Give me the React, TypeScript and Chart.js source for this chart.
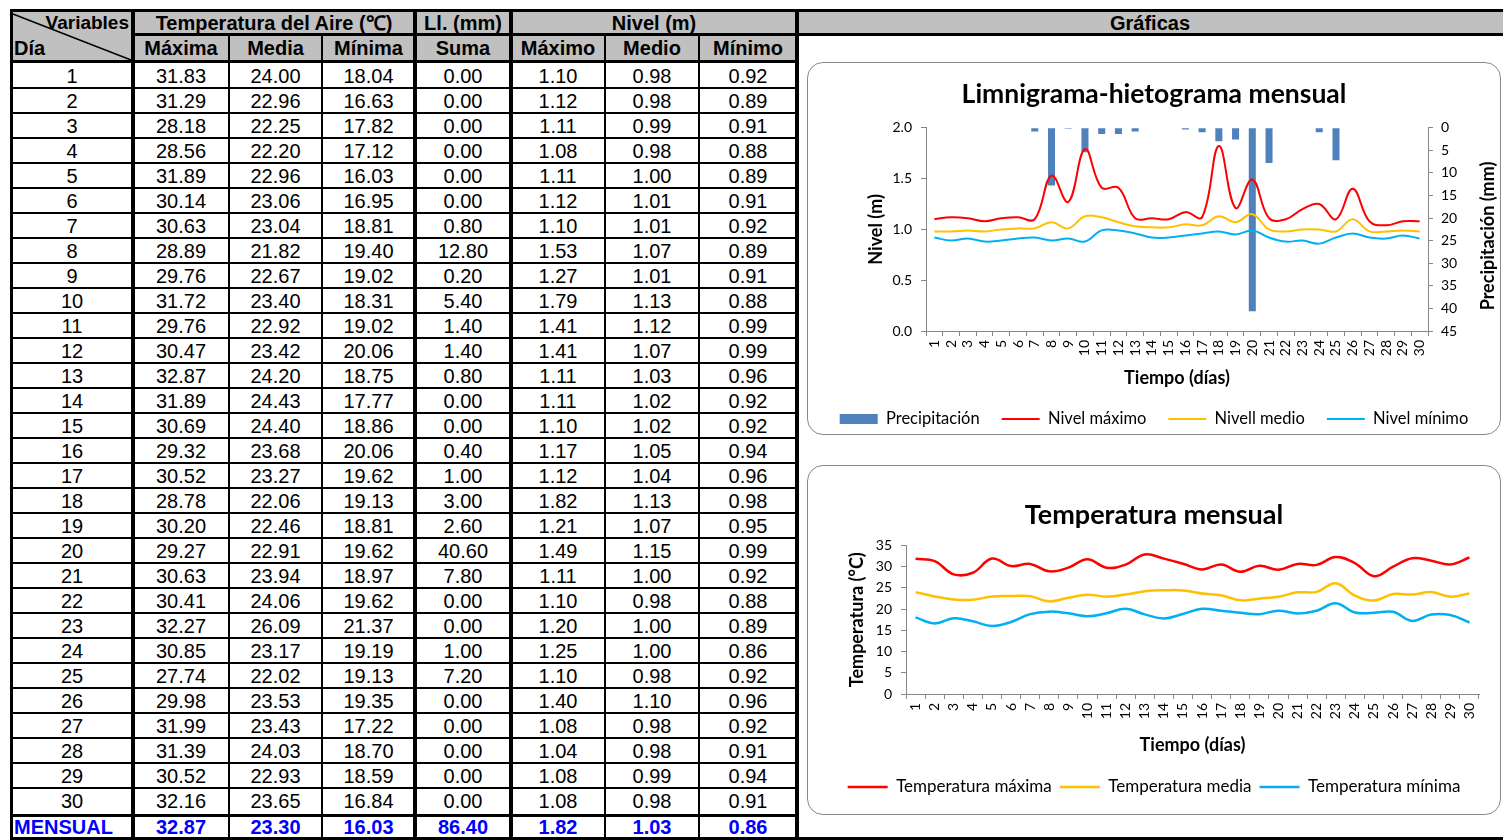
import React, { useEffect, useRef } from "react";
import { Chart, registerables } from "chart.js";
Chart.register(...registerables);

// ---------- DATA ----------
const days = ["1","2","3","4","5","6","7","8","9","10","11","12","13","14","15","16","17","18","19","20","21","22","23","24","25","26","27","28","29","30"];
const tMax = [31.83,31.29,28.18,28.56,31.89,30.14,30.63,28.89,29.76,31.72,29.76,30.47,32.87,31.89,30.69,29.32,30.52,28.78,30.20,29.27,30.63,30.41,32.27,30.85,27.74,29.98,31.99,31.39,30.52,32.16];
const tMed = [24.00,22.96,22.25,22.20,22.96,23.06,23.04,21.82,22.67,23.40,22.92,23.42,24.20,24.43,24.40,23.68,23.27,22.06,22.46,22.91,23.94,24.06,26.09,23.17,22.02,23.53,23.43,24.03,22.93,23.65];
const tMin = [18.04,16.63,17.82,17.12,16.03,16.95,18.81,19.40,19.02,18.31,19.02,20.06,18.75,17.77,18.86,20.06,19.62,19.13,18.81,19.62,18.97,19.62,21.37,19.19,19.13,19.35,17.22,18.70,18.59,16.84];
const precip = [0.00,0.00,0.00,0.00,0.00,0.00,0.80,12.80,0.20,5.40,1.40,1.40,0.80,0.00,0.00,0.40,1.00,3.00,2.60,40.60,7.80,0.00,0.00,1.00,7.20,0.00,0.00,0.00,0.00,0.00];
const nMax = [1.10,1.12,1.11,1.08,1.11,1.12,1.10,1.53,1.27,1.79,1.41,1.41,1.11,1.11,1.10,1.17,1.12,1.82,1.21,1.49,1.11,1.10,1.20,1.25,1.10,1.40,1.08,1.04,1.08,1.08];
const nMed = [0.98,0.98,0.99,0.98,1.00,1.01,1.01,1.07,1.01,1.13,1.12,1.07,1.03,1.02,1.02,1.05,1.04,1.13,1.07,1.15,1.00,0.98,1.00,1.00,0.98,1.10,0.98,0.98,0.99,0.98];
const nMin = [0.92,0.89,0.91,0.88,0.89,0.91,0.92,0.89,0.91,0.88,0.99,0.99,0.96,0.92,0.92,0.94,0.96,0.98,0.95,0.99,0.92,0.88,0.89,0.86,0.92,0.96,0.92,0.91,0.94,0.91];
const mensual = ["32.87","23.30","16.03","86.40","1.82","1.03","0.86"];
const subHeaders = ["Máxima","Media","Mínima","Suma","Máximo","Medio","Mínimo"];

// ---------- TABLE GEOMETRY ----------
const colX = [11, 133, 229, 322, 415, 511, 605, 699, 797];
const ROW0 = 63;
const ROWH = 25;
const TABLE_FONT = '"Liberation Sans", Arial, sans-serif';
const CHART_FONT = 'Lato, "Open Sans", sans-serif';

const abs = (l: number, t: number, w: number, h: number, extra: any = {}) => ({
  position: "absolute" as const, left: l, top: t, width: w, height: h, ...extra,
});

function Cell({ l, r, t, b, children, align = "center", bold = false, color = "#000", size = 20 }: any) {
  return (
    <div style={abs(l, t, r - l, b - t, {
      display: "flex", alignItems: "center",
      justifyContent: align === "center" ? "center" : align === "right" ? "flex-end" : "flex-start",
      fontFamily: TABLE_FONT, fontSize: size, fontWeight: bold ? 700 : 400, color,
      whiteSpace: "nowrap", lineHeight: 1, padding: align === "left" ? "0 0 0 3px" : align === "right" ? "0 2px 0 0" : 0,
      boxSizing: "border-box",
    })}>{children}</div>
  );
}

const VL = (x: number, y1: number, y2: number, t: number, k: string) => (
  <div key={k} style={abs(x - t / 2, y1, t, y2 - y1, { background: "#000" })} />
);
const HL = (x1: number, x2: number, y: number, t: number, k: string) => (
  <div key={k} style={abs(x1, y - t / 2, x2 - x1, t, { background: "#000" })} />
);

function legendLabels(styles: string[]) {
  return (chart: any) => {
    const items = Chart.defaults.plugins.legend.labels.generateLabels(chart);
    items.forEach((it: any) => { it.pointStyle = styles[it.datasetIndex]; });
    items.sort((a: any, b: any) => a.datasetIndex - b.datasetIndex);
    return items;
  };
}

const axisColor = "#868686";
const tickFont = { family: CHART_FONT, size: 14 };
const axisTitleFont = { family: CHART_FONT, size: 18, weight: "bold" };

function LimniChart() {
  const ref = useRef<HTMLCanvasElement>(null);
  useEffect(() => {
    const rightTitle = {
      id: "rightTitle",
      afterDraw(chart: any) {
        const ctx = chart.ctx;
        ctx.save();
        ctx.font = `bold 18px ${CHART_FONT}`;
        ctx.fillStyle = "#000";
        ctx.textAlign = "center";
        ctx.textBaseline = "middle";
        ctx.translate(681, 174);
        ctx.rotate(-Math.PI / 2);
        ctx.fillText("Precipitación (mm)", 0, 0);
        ctx.restore();
      },
    };
    const chart = new Chart(ref.current as HTMLCanvasElement, {
      type: "bar",
      data: {
        labels: days,
        datasets: [
          { type: "bar", label: "Precipitación", data: precip, yAxisID: "y2", backgroundColor: "#4F81BD", barPercentage: 0.42, categoryPercentage: 1, order: 2 } as any,
          { type: "line", label: "Nivel máximo", data: nMax, yAxisID: "y", borderColor: "#FF0000", backgroundColor: "#FF0000", borderWidth: 2, pointRadius: 0, tension: 0.4, order: 1 },
          { type: "line", label: "Nivell medio", data: nMed, yAxisID: "y", borderColor: "#FFC000", backgroundColor: "#FFC000", borderWidth: 2, pointRadius: 0, tension: 0.4, order: 1 },
          { type: "line", label: "Nivel mínimo", data: nMin, yAxisID: "y", borderColor: "#00B0F0", backgroundColor: "#00B0F0", borderWidth: 2, pointRadius: 0, tension: 0.4, order: 1 },
        ],
      },
      options: {
        responsive: false,
        animation: false,
        layout: { padding: { left: 0, right: 0, top: 0, bottom: -2.25 } },
        plugins: {
          title: { display: true, text: "Limnigrama-hietograma mensual", color: "#000", font: { family: CHART_FONT, size: 26.5, weight: "bold" }, padding: { top: 17, bottom: 17 } },
          legend: {
            position: "bottom",
            labels: {
              usePointStyle: true, pointStyleWidth: 38, boxHeight: 10, padding: 22,
              color: "#000", font: { family: CHART_FONT, size: 16.5 },
              generateLabels: legendLabels(["rect", "line", "line", "line"]),
            },
          },
          tooltip: { enabled: false },
        },
        scales: {
          x: {
            offset: true,
            grid: { offset: true, drawOnChartArea: false, tickLength: 5, color: axisColor },
            border: { color: axisColor },
            ticks: { minRotation: 90, maxRotation: 90, autoSkip: false, color: "#000", font: tickFont, padding: 4 },
            title: { display: true, text: "Tiempo (días)", color: "#000", font: axisTitleFont, padding: { top: 0, bottom: 0 } },
            afterFit: (s: any) => { s.height = 57.75; },
          },
          y: {
            position: "left", min: 0, max: 2,
            grid: { drawOnChartArea: false, tickLength: 5, color: axisColor },
            border: { color: axisColor },
            ticks: { stepSize: 0.5, autoSkip: false, color: "#000", font: tickFont, padding: 9, callback: (v: any) => Number(v).toFixed(1) },
            title: { display: true, text: "Nivel (m)", color: "#000", font: axisTitleFont, padding: { top: 58, bottom: 0 } },
            afterFit: (s: any) => { s.width = 119; },
          },
          y2: {
            position: "right", min: 0, max: 45, reverse: true,
            grid: { drawOnChartArea: false, tickLength: 5, color: axisColor },
            border: { color: axisColor },
            ticks: { stepSize: 5, autoSkip: false, color: "#000", font: tickFont, padding: 8 },
            afterFit: (s: any) => { s.width = 73; },
          },
        },
      } as any,
      plugins: [rightTitle],
    });
    return () => chart.destroy();
  }, []);
  return <canvas ref={ref} width={694} height={373} style={abs(807, 62, 694, 373)} />;
}

function TempChart() {
  const ref = useRef<HTMLCanvasElement>(null);
  useEffect(() => {
    const chart = new Chart(ref.current as HTMLCanvasElement, {
      type: "line",
      data: {
        labels: days,
        datasets: [
          { label: "Temperatura máxima", data: tMax, borderColor: "#FF0000", backgroundColor: "#FF0000", borderWidth: 2.5, pointRadius: 0, tension: 0.4 },
          { label: "Temperatura media", data: tMed, borderColor: "#FFC000", backgroundColor: "#FFC000", borderWidth: 2.5, pointRadius: 0, tension: 0.4 },
          { label: "Temperatura mínima", data: tMin, borderColor: "#00B0F0", backgroundColor: "#00B0F0", borderWidth: 2.5, pointRadius: 0, tension: 0.4 },
        ],
      },
      options: {
        responsive: false,
        animation: false,
        layout: { padding: { left: 0, right: 0, top: 0, bottom: 9.5 } },
        plugins: {
          title: { display: true, text: "Temperatura mensual", color: "#000", font: { family: CHART_FONT, size: 27, weight: "bold" }, padding: { top: 34, bottom: 14 } },
          legend: {
            position: "bottom",
            labels: {
              usePointStyle: true, pointStyleWidth: 40, boxHeight: 10, padding: 8,
              color: "#000", font: { family: CHART_FONT, size: 17 },
              generateLabels: legendLabels(["line", "line", "line"]),
            },
          },
          tooltip: { enabled: false },
        },
        scales: {
          x: {
            offset: true,
            grid: { offset: true, drawOnChartArea: false, tickLength: 5, color: axisColor },
            border: { color: axisColor },
            ticks: { minRotation: 90, maxRotation: 90, autoSkip: false, color: "#000", font: tickFont, padding: 4 },
            title: { display: true, text: "Tiempo (días)", color: "#000", font: axisTitleFont, padding: { top: 0, bottom: 14.7 } },
            afterFit: (s: any) => { s.height = 76.5; },
          },
          y: {
            min: 0, max: 35,
            grid: { drawOnChartArea: false, tickLength: 5, color: axisColor },
            border: { color: axisColor },
            ticks: { stepSize: 5, autoSkip: false, color: "#000", font: tickFont, padding: 9 },
            title: { display: true, text: "Temperatura (°C)", color: "#000", font: axisTitleFont, padding: { top: 39, bottom: 0 } },
            afterFit: (s: any) => { s.width = 99; },
          },
          spacer: {
            position: "right", display: true,
            grid: { display: false }, border: { display: false }, ticks: { display: false },
            afterFit: (s: any) => { s.width = 22; },
          },
        },
      } as any,
    });
    return () => chart.destroy();
  }, []);
  return <canvas ref={ref} width={694} height={350} style={abs(807, 465, 694, 350)} />;
}

export default function App() {
  const rows = days.map((d, i) => [d, tMax[i].toFixed(2), tMed[i].toFixed(2), tMin[i].toFixed(2), precip[i].toFixed(2), nMax[i].toFixed(2), nMed[i].toFixed(2), nMin[i].toFixed(2)]);
  const lines: any[] = [];
  lines.push(HL(10, 1503, 10.5, 3, "top"));
  lines.push(HL(133, 1503, 34.5, 3, "h1"));
  lines.push(HL(10, 797, 61.5, 3, "h2"));
  for (let k = 1; k < 30; k++) lines.push(HL(10, 797, ROW0 + ROWH * k, 2, "r" + k));
  lines.push(HL(10, 797, 815.5, 3, "mens"));
  lines.push(HL(10, 1503, 838.5, 3, "bot"));
  lines.push(VL(11.5, 9, 840, 3, "v0"));
  lines.push(VL(133, 9, 840, 4, "v1"));
  lines.push(VL(229, 34, 838, 2, "v2"));
  lines.push(VL(322, 34, 838, 2, "v3"));
  lines.push(VL(415, 9, 840, 4, "v4"));
  lines.push(VL(511, 9, 840, 4, "v5"));
  lines.push(VL(605, 34, 838, 2, "v6"));
  lines.push(VL(699, 34, 838, 2, "v7"));
  lines.push(VL(797, 9, 840, 4, "v8"));

  return (
    <div style={{ position: "fixed", left: 0, top: 0, width: 1503, height: 840, overflow: "hidden", background: "#fff" }}>
      <div style={abs(10, 9, 787, 53, { background: "#C0C0C0" })} />
      <div style={abs(797, 9, 706, 26, { background: "#C0C0C0" })} />

      <Cell l={13} r={131} t={12} b={33} align="right" bold size={19}>Variables</Cell>
      <Cell l={133} r={415} t={12} b={33} bold>Temperatura del Aire (℃)</Cell>
      <Cell l={415} r={511} t={12} b={33} bold>Ll. (mm)</Cell>
      <Cell l={511} r={797} t={12} b={33} bold>Nivel (m)</Cell>
      <Cell l={797} r={1503} t={12} b={33} bold>Gráficas</Cell>
      <Cell l={11} r={131} t={36} b={60} align="left" bold>Día</Cell>
      {subHeaders.map((h, c) => (
        <Cell key={"sh" + c} l={colX[c + 1]} r={colX[c + 2]} t={36} b={60} bold>{h}</Cell>
      ))}

      {rows.map((r, i) => r.map((v, c) => (
        <Cell key={i + "_" + c} l={colX[c]} r={colX[c + 1]} t={ROW0 + ROWH * i} b={ROW0 + ROWH * (i + 1)}>{v}</Cell>
      )))}

      <Cell l={11} r={133} t={817} b={837} align="left" bold color="#0000FF">MENSUAL</Cell>
      {mensual.map((v, c) => (
        <Cell key={"m" + c} l={colX[c + 1]} r={colX[c + 2]} t={817} b={837} bold color="#0000FF">{v}</Cell>
      ))}

      <svg style={abs(0, 0, 140, 70)} width={140} height={70}>
        <line x1={13} y1={14} x2={131} y2={60} stroke="#000" strokeWidth={1.5} />
      </svg>

      {lines}

      <div style={abs(807, 62, 694, 373, { border: "1.5px solid #8a8a8a", borderRadius: 16, boxSizing: "border-box" })} />
      <div style={abs(807, 465, 694, 350, { border: "1.5px solid #8a8a8a", borderRadius: 16, boxSizing: "border-box" })} />
      <LimniChart />
      <TempChart />
    </div>
  );
}
